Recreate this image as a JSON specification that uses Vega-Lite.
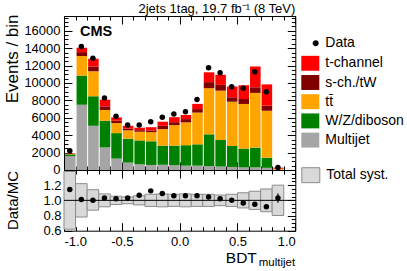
{
"$schema":"https://vega.github.io/schema/vega-lite/v6.json",
"background":"white",
"padding":{"left":2,"top":2,"right":0,"bottom":0},
"bounds":"flush",
"config":{
 "font":"Liberation Sans",
 "view":{"stroke":"black","strokeWidth":1},
 "axis":{"labelFont":"Liberation Sans","titleFont":"Liberation Sans","labelColor":"black","titleColor":"black","tickColor":"black","domain":false,"grid":false,"titleFontWeight":"normal","tickWidth":1},
 "legend":{"labelFont":"Liberation Sans","labelFontSize":14,"labelColor":"black","padding":0,"rowPadding":2.2,"labelOffset":6,"symbolStrokeWidth":0},
 "concat":{"spacing":0}
},
"datasets":{
 "mc":[
  {"lo":-1.0,"hi":-0.9,"p":"Multijet","k":1,"n":1600},{"lo":-1.0,"hi":-0.9,"p":"W/Z/diboson","k":2,"n":200},{"lo":-1.0,"hi":-0.9,"p":"tt̄","k":3,"n":70},{"lo":-1.0,"hi":-0.9,"p":"s-ch./tW","k":4,"n":30},{"lo":-1.0,"hi":-0.9,"p":"t-channel","k":5,"n":30},
  {"lo":-0.9,"hi":-0.8,"p":"Multijet","k":1,"n":7500},{"lo":-0.9,"hi":-0.8,"p":"W/Z/diboson","k":2,"n":3350},{"lo":-0.9,"hi":-0.8,"p":"tt̄","k":3,"n":2250},{"lo":-0.9,"hi":-0.8,"p":"s-ch./tW","k":4,"n":450},{"lo":-0.9,"hi":-0.8,"p":"t-channel","k":5,"n":500},
  {"lo":-0.8,"hi":-0.7,"p":"Multijet","k":1,"n":5080},{"lo":-0.8,"hi":-0.7,"p":"W/Z/diboson","k":2,"n":3390},{"lo":-0.8,"hi":-0.7,"p":"tt̄","k":3,"n":2890},{"lo":-0.8,"hi":-0.7,"p":"s-ch./tW","k":4,"n":540},{"lo":-0.8,"hi":-0.7,"p":"t-channel","k":5,"n":880},
  {"lo":-0.7,"hi":-0.6,"p":"Multijet","k":1,"n":2600},{"lo":-0.7,"hi":-0.6,"p":"W/Z/diboson","k":2,"n":3060},{"lo":-0.7,"hi":-0.6,"p":"tt̄","k":3,"n":1240},{"lo":-0.7,"hi":-0.6,"p":"s-ch./tW","k":4,"n":420},{"lo":-0.7,"hi":-0.6,"p":"t-channel","k":5,"n":760},
  {"lo":-0.6,"hi":-0.5,"p":"Multijet","k":1,"n":1310},{"lo":-0.6,"hi":-0.5,"p":"W/Z/diboson","k":2,"n":2930},{"lo":-0.6,"hi":-0.5,"p":"tt̄","k":3,"n":1150},{"lo":-0.6,"hi":-0.5,"p":"s-ch./tW","k":4,"n":270},{"lo":-0.6,"hi":-0.5,"p":"t-channel","k":5,"n":390},
  {"lo":-0.5,"hi":-0.4,"p":"Multijet","k":1,"n":850},{"lo":-0.5,"hi":-0.4,"p":"W/Z/diboson","k":2,"n":2750},{"lo":-0.5,"hi":-0.4,"p":"tt̄","k":3,"n":960},{"lo":-0.5,"hi":-0.4,"p":"s-ch./tW","k":4,"n":190},{"lo":-0.5,"hi":-0.4,"p":"t-channel","k":5,"n":330},
  {"lo":-0.4,"hi":-0.3,"p":"Multijet","k":1,"n":660},{"lo":-0.4,"hi":-0.3,"p":"W/Z/diboson","k":2,"n":2740},{"lo":-0.4,"hi":-0.3,"p":"tt̄","k":3,"n":1000},{"lo":-0.4,"hi":-0.3,"p":"s-ch./tW","k":4,"n":180},{"lo":-0.4,"hi":-0.3,"p":"t-channel","k":5,"n":280},
  {"lo":-0.3,"hi":-0.2,"p":"Multijet","k":1,"n":580},{"lo":-0.3,"hi":-0.2,"p":"W/Z/diboson","k":2,"n":2720},{"lo":-0.3,"hi":-0.2,"p":"tt̄","k":3,"n":1050},{"lo":-0.3,"hi":-0.2,"p":"s-ch./tW","k":4,"n":200},{"lo":-0.3,"hi":-0.2,"p":"t-channel","k":5,"n":370},
  {"lo":-0.2,"hi":-0.1,"p":"Multijet","k":1,"n":600},{"lo":-0.2,"hi":-0.1,"p":"W/Z/diboson","k":2,"n":2200},{"lo":-0.2,"hi":-0.1,"p":"tt̄","k":3,"n":1900},{"lo":-0.2,"hi":-0.1,"p":"s-ch./tW","k":4,"n":380},{"lo":-0.2,"hi":-0.1,"p":"t-channel","k":5,"n":470},
  {"lo":-0.1,"hi":0.0,"p":"Multijet","k":1,"n":550},{"lo":-0.1,"hi":0.0,"p":"W/Z/diboson","k":2,"n":2250},{"lo":-0.1,"hi":0.0,"p":"tt̄","k":3,"n":2360},{"lo":-0.1,"hi":0.0,"p":"s-ch./tW","k":4,"n":340},{"lo":-0.1,"hi":0.0,"p":"t-channel","k":5,"n":570},
  {"lo":0.0,"hi":0.1,"p":"Multijet","k":1,"n":500},{"lo":0.0,"hi":0.1,"p":"W/Z/diboson","k":2,"n":2350},{"lo":0.0,"hi":0.1,"p":"tt̄","k":3,"n":2620},{"lo":0.0,"hi":0.1,"p":"s-ch./tW","k":4,"n":380},{"lo":0.0,"hi":0.1,"p":"t-channel","k":5,"n":470},
  {"lo":0.1,"hi":0.2,"p":"Multijet","k":1,"n":500},{"lo":0.1,"hi":0.2,"p":"W/Z/diboson","k":2,"n":2450},{"lo":0.1,"hi":0.2,"p":"tt̄","k":3,"n":3650},{"lo":0.1,"hi":0.2,"p":"s-ch./tW","k":4,"n":400},{"lo":0.1,"hi":0.2,"p":"t-channel","k":5,"n":600},
  {"lo":0.2,"hi":0.3,"p":"Multijet","k":1,"n":450},{"lo":0.2,"hi":0.3,"p":"W/Z/diboson","k":2,"n":3650},{"lo":0.2,"hi":0.3,"p":"tt̄","k":3,"n":5300},{"lo":0.2,"hi":0.3,"p":"s-ch./tW","k":4,"n":700},{"lo":0.2,"hi":0.3,"p":"t-channel","k":5,"n":1130},
  {"lo":0.3,"hi":0.4,"p":"Multijet","k":1,"n":400},{"lo":0.3,"hi":0.4,"p":"W/Z/diboson","k":2,"n":3050},{"lo":0.3,"hi":0.4,"p":"tt̄","k":3,"n":5670},{"lo":0.3,"hi":0.4,"p":"s-ch./tW","k":4,"n":660},{"lo":0.3,"hi":0.4,"p":"t-channel","k":5,"n":1170},
  {"lo":0.4,"hi":0.5,"p":"Multijet","k":1,"n":350},{"lo":0.4,"hi":0.5,"p":"W/Z/diboson","k":2,"n":2410},{"lo":0.4,"hi":0.5,"p":"tt̄","k":3,"n":5090},{"lo":0.4,"hi":0.5,"p":"s-ch./tW","k":4,"n":510},{"lo":0.4,"hi":0.5,"p":"t-channel","k":5,"n":1240},
  {"lo":0.5,"hi":0.6,"p":"Multijet","k":1,"n":300},{"lo":0.5,"hi":0.6,"p":"W/Z/diboson","k":2,"n":2160},{"lo":0.5,"hi":0.6,"p":"tt̄","k":3,"n":5130},{"lo":0.5,"hi":0.6,"p":"s-ch./tW","k":4,"n":570},{"lo":0.5,"hi":0.6,"p":"t-channel","k":5,"n":1580},
  {"lo":0.6,"hi":0.7,"p":"Multijet","k":1,"n":300},{"lo":0.6,"hi":0.7,"p":"W/Z/diboson","k":2,"n":2270},{"lo":0.6,"hi":0.7,"p":"tt̄","k":3,"n":6290},{"lo":0.6,"hi":0.7,"p":"s-ch./tW","k":4,"n":650},{"lo":0.6,"hi":0.7,"p":"t-channel","k":5,"n":2390},
  {"lo":0.7,"hi":0.8,"p":"Multijet","k":1,"n":250},{"lo":0.7,"hi":0.8,"p":"W/Z/diboson","k":2,"n":1170},{"lo":0.7,"hi":0.8,"p":"tt̄","k":3,"n":5390},{"lo":0.7,"hi":0.8,"p":"s-ch./tW","k":4,"n":580},{"lo":0.7,"hi":0.8,"p":"t-channel","k":5,"n":2450},
  {"lo":0.8,"hi":0.9,"p":"Multijet","k":1,"n":10},{"lo":0.8,"hi":0.9,"p":"W/Z/diboson","k":2,"n":20},{"lo":0.8,"hi":0.9,"p":"tt̄","k":3,"n":110},{"lo":0.8,"hi":0.9,"p":"s-ch./tW","k":4,"n":20},{"lo":0.8,"hi":0.9,"p":"t-channel","k":5,"n":110}
 ],
 "obs":[
  {"lo":-1.0,"hi":-0.9,"c":-0.95,"n":2200,"r":1.143,"rlo":1.113,"rhi":1.173,"slo":0.62,"shi":1.38},
  {"lo":-0.9,"hi":-0.8,"c":-0.85,"n":14200,"r":1.01,"rlo":1.0,"rhi":1.02,"slo":0.78,"shi":1.22},
  {"lo":-0.8,"hi":-0.7,"c":-0.75,"n":12850,"r":1.0,"rlo":0.99,"rhi":1.01,"slo":0.87,"shi":1.14},
  {"lo":-0.7,"hi":-0.6,"c":-0.65,"n":8280,"r":1.03,"rlo":1.018,"rhi":1.042,"slo":0.915,"shi":1.085},
  {"lo":-0.6,"hi":-0.5,"c":-0.55,"n":6170,"r":1.02,"rlo":1.007,"rhi":1.033,"slo":0.945,"shi":1.055},
  {"lo":-0.5,"hi":-0.4,"c":-0.45,"n":5160,"r":1.03,"rlo":1.016,"rhi":1.044,"slo":0.955,"shi":1.045},
  {"lo":-0.4,"hi":-0.3,"c":-0.35,"n":5160,"r":1.067,"rlo":1.053,"rhi":1.081,"slo":0.94,"shi":1.06},
  {"lo":-0.3,"hi":-0.2,"c":-0.25,"n":5540,"r":1.125,"rlo":1.111,"rhi":1.139,"slo":0.92,"shi":1.08},
  {"lo":-0.2,"hi":-0.1,"c":-0.15,"n":6050,"r":1.09,"rlo":1.077,"rhi":1.103,"slo":0.915,"shi":1.085},
  {"lo":-0.1,"hi":0.0,"c":-0.05,"n":6430,"r":1.06,"rlo":1.047,"rhi":1.073,"slo":0.92,"shi":1.08},
  {"lo":0.0,"hi":0.1,"c":0.05,"n":6700,"r":1.06,"rlo":1.048,"rhi":1.072,"slo":0.915,"shi":1.085},
  {"lo":0.1,"hi":0.2,"c":0.15,"n":8100,"r":1.06,"rlo":1.049,"rhi":1.071,"slo":0.92,"shi":1.08},
  {"lo":0.2,"hi":0.3,"c":0.25,"n":11740,"r":1.045,"rlo":1.035,"rhi":1.055,"slo":0.92,"shi":1.08},
  {"lo":0.3,"hi":0.4,"c":0.35,"n":11170,"r":1.02,"rlo":1.01,"rhi":1.03,"slo":0.93,"shi":1.07},
  {"lo":0.4,"hi":0.5,"c":0.45,"n":9580,"r":1.0,"rlo":0.99,"rhi":1.01,"slo":0.92,"shi":1.08},
  {"lo":0.5,"hi":0.6,"c":0.55,"n":9400,"r":0.965,"rlo":0.955,"rhi":0.975,"slo":0.9,"shi":1.1},
  {"lo":0.6,"hi":0.7,"c":0.65,"n":11300,"r":0.95,"rlo":0.94,"rhi":0.96,"slo":0.88,"shi":1.12},
  {"lo":0.7,"hi":0.8,"c":0.75,"n":9000,"r":0.915,"rlo":0.905,"rhi":0.925,"slo":0.85,"shi":1.15},
  {"lo":0.8,"hi":0.9,"c":0.85,"n":280,"r":1.03,"rlo":0.97,"rhi":1.09,"slo":0.8,"shi":1.2}
 ]
},
"resolve":{"scale":{"x":"independent","y":"independent"},"legend":{"color":"independent","fill":"independent"}},
"vconcat":[
 {
  "width":231.3,"height":154,
  "title":{"text":"2jets 1tag, 19.7 fb⁻¹ (8 TeV)","anchor":"end","frame":"group","fontSize":13,"fontWeight":"normal","font":"Liberation Sans","color":"black","baseline":"alphabetic","offset":-12},
  "resolve":{"scale":{"color":"independent"},"axis":{"x":"independent","y":"independent"}},
  "layer":[
   {
    "data":{"name":"mc"},
    "mark":{"type":"bar"},
    "encoding":{
     "x":{"field":"lo","type":"quantitative","bin":"binned","scale":{"domain":[-1,1],"nice":false,"zero":false},
      "axis":{"orient":"bottom","values":[-1,-0.9,-0.8,-0.7,-0.6,-0.5,-0.4,-0.3,-0.2,-0.1,0,0.1,0.2,0.3,0.4,0.5,0.6,0.7,0.8,0.9,1],"labels":false,"title":null,
       "tickSize":{"condition":{"test":"abs(datum.value*2-round(datum.value*2))<0.01","value":-8},"value":-4}}},
     "x2":{"field":"hi"},
     "y":{"field":"n","type":"quantitative","stack":"zero","scale":{"domain":[0,17700],"nice":false},
      "axis":{"orient":"left","values":[0,500,1000,1500,2000,2500,3000,3500,4000,4500,5000,5500,6000,6500,7000,7500,8000,8500,9000,9500,10000,10500,11000,11500,12000,12500,13000,13500,14000,14500,15000,15500,16000,16500,17000,17500],
       "labelExpr":"datum.value % 2000 == 0 ? '' + datum.value : ''","labelFontSize":13,"labelPadding":12,
       "tickSize":{"condition":{"test":"datum.value % 2000 == 0","value":-8},"value":-4},
       "title":"Events / bin","titleFontSize":17,"titleAlign":"right","titleBaseline":"alphabetic","titleX":-46.7,"titleY":-2}},
     "color":{"field":"p","type":"nominal","scale":{"domain":["t-channel","s-ch./tW","tt̄","W/Z/diboson","Multijet"],"range":["#ff0000","#800000","#ffa500","#008000","#a5a5a5"]},
      "legend":{"orient":"none","legendX":237.3,"legendY":38.3,"title":null,"symbolType":"M-1,-0.83H1V0.83H-1Z","symbolSize":324,"symbolOpacity":1}},
     "order":{"field":"k","type":"quantitative"}
    }
   },
   {
    "data":{"name":"obs"},
    "mark":{"type":"point","filled":true,"size":30,"opacity":1},
    "encoding":{
     "x":{"field":"c","type":"quantitative","scale":{"domain":[-1,1],"nice":false,"zero":false},
      "axis":{"orient":"bottom","offset":-154,"values":[-1,-0.9,-0.8,-0.7,-0.6,-0.5,-0.4,-0.3,-0.2,-0.1,0,0.1,0.2,0.3,0.4,0.5,0.6,0.7,0.8,0.9,1],"labels":false,"title":null,
       "tickSize":{"condition":{"test":"abs(datum.value*2-round(datum.value*2))<0.01","value":8},"value":4}}},
     "y":{"field":"n","type":"quantitative","scale":{"domain":[0,17700],"nice":false},
      "axis":{"orient":"left","offset":-231.3,"values":[0,500,1000,1500,2000,2500,3000,3500,4000,4500,5000,5500,6000,6500,7000,7500,8000,8500,9000,9500,10000,10500,11000,11500,12000,12500,13000,13500,14000,14500,15000,15500,16000,16500,17000,17500],"labels":false,"title":null,
       "tickSize":{"condition":{"test":"datum.value % 2000 == 0","value":8},"value":4}}},
     "color":{"datum":"Data","type":"nominal","scale":{"domain":["Data"],"range":["black"]},
      "legend":{"orient":"none","legendX":237.3,"legendY":18.2,"title":null,"symbolType":"M0.27,0A0.33,0.33 0 1,1 0.93,0A0.33,0.33 0 1,1 0.27,0Z","symbolSize":324}}
    }
   },
   {
    "data":{"values":[{"t":"CMS"}]},
    "mark":{"type":"text","fontSize":14.5,"fontWeight":"bold","font":"Liberation Sans","align":"left","baseline":"alphabetic","color":"black"},
    "encoding":{
     "text":{"field":"t","type":"nominal"},
     "x":{"datum":-0.862,"type":"quantitative","scale":{"domain":[-1,1],"nice":false,"zero":false},"axis":null},
     "y":{"datum":15420,"type":"quantitative","scale":{"domain":[0,17700],"nice":false},"axis":null}
    }
   }
  ]
 },
 {
  "width":231.3,"height":60.7,
  "resolve":{"axis":{"x":"independent","y":"independent"}},
  "layer":[
   {
    "data":{"name":"obs"},
    "mark":{"type":"bar","stroke":"#8c8c8c","strokeWidth":1},
    "encoding":{
     "x":{"field":"lo","type":"quantitative","scale":{"domain":[-1,1],"nice":false,"zero":false},
      "axis":{"orient":"bottom","values":[-1,-0.9,-0.8,-0.7,-0.6,-0.5,-0.4,-0.3,-0.2,-0.1,0,0.1,0.2,0.3,0.4,0.5,0.6,0.7,0.8,0.9,1],
       "labelExpr":"abs(datum.value*2-round(datum.value*2))<0.01 ? replace(format(datum.value,'.1f'),'−','-') : ''","labelFontSize":13,"labelPadding":13,
       "tickSize":{"condition":{"test":"abs(datum.value*2-round(datum.value*2))<0.01","value":-8},"value":-4},
       "title":"BDT","titleFontSize":15.5,"titleAlign":"right","titleBaseline":"alphabetic","titleX":192.3,"titleY":32.3}},
     "x2":{"field":"hi"},
     "y":{"field":"slo","type":"quantitative","scale":{"domain":[0.6,1.4],"nice":false,"zero":false},
      "axis":{"orient":"left","values":[0.6,0.65,0.7,0.75,0.8,0.85,0.9,0.95,1,1.05,1.1,1.15,1.2,1.25,1.3,1.35,1.4],
       "labelExpr":"abs(datum.value*5-round(datum.value*5))<0.01 && datum.value<1.35 ? format(datum.value,'.1f') : ''","labelFontSize":13,"labelPadding":11,
       "tickSize":{"condition":{"test":"abs(datum.value*5-round(datum.value*5))<0.01","value":-8},"value":-4},
       "title":"Data/MC","titleFontSize":15,"titleAlign":"center","titleBaseline":"alphabetic","titleX":-46.7,"titleY":30}},
     "y2":{"field":"shi"},
     "fill":{"datum":"Total syst.","type":"nominal","scale":{"domain":["Total syst."],"range":["#d9d9d9"]},
      "legend":{"orient":"none","legendX":237.3,"legendY":-4.3,"title":null,"symbolType":"M-1,-0.83H1V0.83H-1Z","symbolSize":324,"symbolStrokeColor":"#8c8c8c","symbolStrokeWidth":1,"symbolOpacity":1}}
    }
   },
   {
    "data":{"values":[{"one":1}]},
    "mark":{"type":"rule","color":"black","strokeWidth":1},
    "encoding":{"y":{"field":"one","type":"quantitative","scale":{"domain":[0.6,1.4],"nice":false,"zero":false},"axis":null}}
   },
   {
    "data":{"name":"obs"},
    "mark":{"type":"rule","color":"black","strokeWidth":1.2},
    "encoding":{
     "x":{"field":"c","type":"quantitative","scale":{"domain":[-1,1],"nice":false,"zero":false},
      "axis":{"orient":"bottom","labels":false,"ticks":false,"domain":false,"title":"multijet","titleFontSize":11.5,"titleAlign":"left","titleBaseline":"alphabetic","titleX":194.3,"titleY":35}},
     "y":{"field":"rlo","type":"quantitative","scale":{"domain":[0.6,1.4],"nice":false,"zero":false},"axis":null},
     "y2":{"field":"rhi"}
    }
   },
   {
    "data":{"name":"obs"},
    "mark":{"type":"point","filled":true,"size":30,"opacity":1,"color":"black"},
    "encoding":{
     "x":{"field":"c","type":"quantitative","scale":{"domain":[-1,1],"nice":false,"zero":false},
      "axis":{"orient":"bottom","offset":-60.7,"values":[-1,-0.9,-0.8,-0.7,-0.6,-0.5,-0.4,-0.3,-0.2,-0.1,0,0.1,0.2,0.3,0.4,0.5,0.6,0.7,0.8,0.9,1],"labels":false,"title":null,
       "tickSize":{"condition":{"test":"abs(datum.value*2-round(datum.value*2))<0.01","value":8},"value":4}}},
     "y":{"field":"r","type":"quantitative","scale":{"domain":[0.6,1.4],"nice":false,"zero":false},
      "axis":{"orient":"left","offset":-231.3,"values":[0.6,0.65,0.7,0.75,0.8,0.85,0.9,0.95,1,1.05,1.1,1.15,1.2,1.25,1.3,1.35,1.4],"labels":false,"title":null,
       "tickSize":{"condition":{"test":"abs(datum.value*5-round(datum.value*5))<0.01","value":8},"value":4}}}
    }
   }
  ]
 }
]
}
